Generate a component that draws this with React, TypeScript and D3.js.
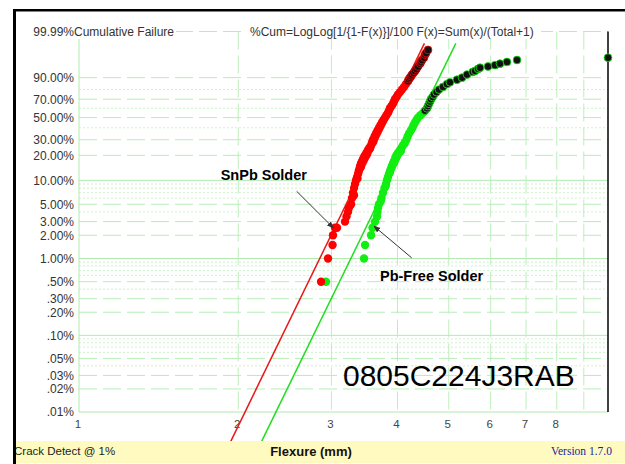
import React from "react";
import * as d3 from "d3";

const W = 625;
const H = 464;

// ---- axis ticks / grid (Weibull probability scale) ----
const yTickPct = [99.99, 90, 70, 50, 30, 20, 10, 5, 3, 2, 1, 0.5, 0.3, 0.2, 0.1, 0.05, 0.03, 0.02, 0.01];
const yTickText = ["99.99%", "90.00%", "70.00%", "50.00%", "30.00%", "20.00%", "10.00%", "5.00%", "3.00%", "2.00%", "1.00%", ".50%", ".30%", ".20%", ".10%", ".05%", ".03%", ".02%", ".01%"];
const gridSolidPct = [10, 1, 0.1, 0.01];
const gridDashPct = [99.99, 90, 70, 50, 30, 20, 5, 3, 2, 0.5, 0.3, 0.2, 0.05, 0.03, 0.02];
const gridDotPct = [80, 60, 40, 9, 8, 7, 6, 4, 0.9, 0.8, 0.7, 0.6, 0.4, 0.09, 0.08, 0.07, 0.06, 0.04];
const xTicks = [1, 2, 3, 4, 5, 6, 7, 8];
const xGrid = [2, 3, 4, 5, 6, 7, 8, 9];

// ---- SnPb solder (red) ----
const snpbFlex = [2.868, 2.956, 3.015, 3.021, 3.047, 3.074, 3.183, 3.204, 3.225, 3.239, 3.268, 3.282, 3.296, 3.311, 3.325, 3.34, 3.355, 3.369, 3.38, 3.391, 3.4, 3.413, 3.428, 3.443, 3.458, 3.473, 3.495, 3.518, 3.54, 3.565, 3.58, 3.596, 3.62, 3.643, 3.667, 3.691, 3.715, 3.739, 3.763, 3.788, 3.813, 3.838, 3.855, 3.871, 3.897, 3.922, 3.94, 3.957, 3.983, 4.009, 4.044, 4.079, 4.115, 4.151, 3.31, 3.36, 3.41, 3.46, 3.5, 3.55, 3.6];
const snpbPct = [0.5, 1.0, 1.5, 2.0, 2.5, 2.5, 3.0, 3.5, 4.0, 4.5, 5, 6, 7, 8, 9, 10, 11, 12, 13, 14, 15, 16, 17, 18, 19, 20, 21.5, 23, 24.5, 26, 28, 30, 32.5, 35, 37.5, 40, 42.5, 45, 47.5, 50, 52.5, 55, 57.5, 60, 62.5, 65, 67.5, 70, 72.5, 75, 77.5, 80, 82.5, 85, 6.5, 10.5, 14.5, 18.5, 20.5, 24, 28.5];
const snpbUpperFlex = [4.188, 4.205, 4.224, 4.245, 4.261, 4.29, 4.317, 4.345, 4.373, 4.412, 4.43, 4.45, 4.489, 4.509, 4.53, 4.568];
const snpbUpperPct = [87.5, 89, 90, 91, 92, 93, 94, 95, 96, 97, 97.5, 98, 98.5, 99, 99.2, 99.5];

// ---- Pb-Free solder (green) ----
const pbfFlex = [2.93, 3.458, 3.473, 3.565, 3.588, 3.627, 3.659, 3.667, 3.675, 3.691, 3.731, 3.755, 3.78, 3.805, 3.821, 3.838, 3.855, 3.872, 3.889, 3.905, 3.922, 3.94, 3.957, 3.97, 3.983, 4.01, 4.044, 4.07, 4.097, 4.13, 4.16, 4.18, 4.206, 4.24, 4.27, 4.29, 4.317, 4.345, 4.373, 4.42, 4.469, 3.72, 3.8, 3.87, 3.94, 4.0, 4.06, 4.12];
const pbfPct = [0.5, 1.0, 1.5, 2.0, 2.5, 3.0, 3.5, 4.0, 4.5, 5, 6, 7, 8, 9, 10, 11, 12, 13, 14, 15, 16, 17, 18, 19, 20, 21.5, 23, 24.5, 26, 28, 30, 32.5, 35, 37.5, 40, 42.5, 45, 47.5, 50, 52.5, 55, 5.5, 8.5, 12.5, 16.5, 20.5, 22.5, 27];
const pbfUpperFlex = [4.509, 4.548, 4.567, 4.587, 4.608, 4.628, 4.66, 4.689, 4.74, 4.791, 4.875, 4.961, 5.026, 5.182, 5.297, 5.413, 5.55, 5.606, 5.68, 5.729, 5.932, 6.115, 6.249, 6.443, 6.73, 10];
const pbfUpperPct = [57.5, 60, 62.5, 65, 67.5, 70, 72.5, 75, 77.5, 80, 82.5, 85, 86.5, 88.5, 90, 92, 93.5, 94, 95, 95.5, 96, 96.5, 97, 97.5, 98, 98.5];

// ---- Weibull fit lines ----
const fitBeta = [14.18, 14.14];
const fitEta = [3.944, 4.52];
const fitPctRange = [0.003, 99.84];

// ---- annotations (data coords: flexure, %) ----
const annotText = ["SnPb Solder", "Pb-Free Solder"];
const annotLabelPos = [[1.853, 10.2], [3.707, 0.507]];
const annotArrowFrom = [[2.579, 7.3], [4.256, 1.02]];
const annotArrowTo = [[3.025, 2.5], [3.612, 2.62]];
const partNumber = "0805C224J3RAB";
const partNumberPos = [3.155, 0.0221];

const wb = (p: number) => Math.log(-Math.log(1 - p / 100));

const x = d3.scaleLog().domain([1, 10]).range([79, 608]);
const y = d3.scaleLinear().domain([wb(0.01), wb(99.99)]).range([412, 31.5]);
const yp = (p: number) => y(wb(p));

const SANS = "'Liberation Sans', Arial, sans-serif";
const RED = "#ff0000";
const GREEN = "#11ee11";

export default function App() {
  const left = 79, right = 608;
  const lineGen = d3.line<[number, number]>().x((d) => d[0]).y((d) => d[1]);
  const fits = fitBeta.map((b, i) =>
    fitPctRange.map((p) => {
      const v = wb(p);
      const fx = fitEta[i] * Math.exp(v / b);
      return [x(fx), y(v)] as [number, number];
    })
  );
  const fitColors = ["#e81818", "#22dd22"];
  return (
    <svg width={W} height={H} style={{ display: "block", position: "absolute", left: 0, top: 0, background: "#fff" }}>
      <defs>
        <marker id="arr" viewBox="0 0 10 10" refX="9" refY="5" markerWidth="7" markerHeight="7" orient="auto">
          <path d="M0,1 L10,5 L0,9 z" fill="#333" />
        </marker>
      </defs>
      <rect x={0} y={0} width={W} height={H} fill="#fff" />
      {/* grid */}
      {gridDotPct.map((p) => (
        <line key={"dt" + p} x1={left} x2={right} y1={yp(p)} y2={yp(p)} stroke="#cdf2cd" strokeWidth={1} strokeDasharray="2 2" />
      ))}
      {gridDashPct.map((p) => (
        <line key={"ds" + p} x1={left} x2={right} y1={yp(p)} y2={yp(p)} stroke="#b8ecb8" strokeWidth={1} strokeDasharray="18 6" />
      ))}
      {gridSolidPct.map((p) => (
        <line key={"sl" + p} x1={left} x2={right} y1={yp(p)} y2={yp(p)} stroke="#b0eab0" strokeWidth={1} />
      ))}
      {xGrid.map((t) => (
        <line key={"vx" + t} x1={x(t)} x2={x(t)} y1={yp(99.99)} y2={yp(0.01)} stroke="#bdeebd" strokeWidth={1} strokeDasharray="18 6" />
      ))}
      <line x1={left} x2={left} y1={yp(99.99)} y2={yp(0.01)} stroke="#b0eab0" strokeWidth={1} />
      <line x1={right} x2={right} y1={yp(99.99)} y2={yp(0.01)} stroke="#000" strokeWidth={1.5} />

      {/* y tick labels */}
      {yTickPct.map((p, i) => (
        <text key={"yl" + p} x={74} y={yp(p)} dy="0.36em" textAnchor="end" fontFamily={SANS} fontSize={12} fill="#333">
          {yTickText[i]}
        </text>
      ))}
      {/* header */}
      <rect x={74} y={24} width={102} height={15} fill="#fff" />
      <text x={74} y={yp(99.99)} dy="0.36em" fontFamily={SANS} fontSize={12} fill="#333">Cumulative Failure</text>
      <rect x={246} y={24} width={295} height={15} fill="#fff" />
      <text x={250} y={yp(99.99)} dy="0.36em" fontFamily={SANS} fontSize={12} fill="#333">
        {"%Cum=LogLog[1/{1-F(x)}]/100  F(x)=Sum(x)/(Total+1)"}
      </text>

      {/* x tick labels */}
      {xTicks.map((t) => (
        <text key={"xl" + t} x={x(t) - 1} y={428} textAnchor="middle" fontFamily={SANS} fontSize={11.5} fill="#444">
          {t}
        </text>
      ))}

      {/* fit lines */}
      {fits.map((f, i) => (
        <path key={"fit" + i} d={lineGen(f) || ""} stroke={fitColors[i]} strokeWidth={1.5} fill="none" />
      ))}

      {/* points */}
      {pbfFlex.map((v, i) => (
        <circle key={"g" + i} cx={x(v)} cy={yp(pbfPct[i])} r={4.2} fill={GREEN} />
      ))}
      {snpbFlex.map((v, i) => (
        <circle key={"r" + i} cx={x(v)} cy={yp(snpbPct[i])} r={4.2} fill={RED} />
      ))}
      {pbfUpperFlex.map((v, i) => (
        <circle key={"gu" + i} cx={x(Math.min(v, 10))} cy={yp(pbfUpperPct[i])} r={3.9} fill="#111" stroke={GREEN} strokeWidth={0.8} />
      ))}
      {snpbUpperFlex.map((v, i) => (
        <circle key={"ru" + i} cx={x(v)} cy={yp(snpbUpperPct[i])} r={3.9} fill="#111" stroke={RED} strokeWidth={0.8} />
      ))}

      {/* annotations */}
      {annotText.map((t, i) => (
        <g key={"an" + i}>
          <line
            x1={x(annotArrowFrom[i][0])}
            y1={yp(annotArrowFrom[i][1])}
            x2={x(annotArrowTo[i][0])}
            y2={yp(annotArrowTo[i][1])}
            stroke="#333"
            strokeWidth={1}
            markerEnd="url(#arr)"
          />
          <text x={x(annotLabelPos[i][0])} y={yp(annotLabelPos[i][1])} fontFamily={SANS} fontSize={14.5} fontWeight="bold" fill="#000">
            {t}
          </text>
        </g>
      ))}
      <text x={x(partNumberPos[0])} y={yp(partNumberPos[1])} fontFamily={SANS} fontSize={30} fill="#000">
        {partNumber}
      </text>

      {/* footer */}
      <rect x={15} y={441} width={W - 15} height={22} fill="#fffbc0" />
      <text x={14} y={455} fontFamily={SANS} fontSize={11.5} fill="#222">Crack Detect @ 1%</text>
      <text x={311} y={456} textAnchor="middle" fontFamily={SANS} fontSize={13} fontWeight="bold" fill="#111">Flexure (mm)</text>
      <text x={612} y={455} textAnchor="end" fontFamily="'Liberation Serif', 'Times New Roman', serif" fontSize={11.5} fill="#1a1aa0">Version 1.7.0</text>

      {/* outer frame */}
      <line x1={14.5} x2={14.5} y1={9} y2={H} stroke="#000" strokeWidth={3} />
      <line x1={13} x2={W} y1={10.2} y2={10.2} stroke="#000" strokeWidth={2.5} />
    </svg>
  );
}
